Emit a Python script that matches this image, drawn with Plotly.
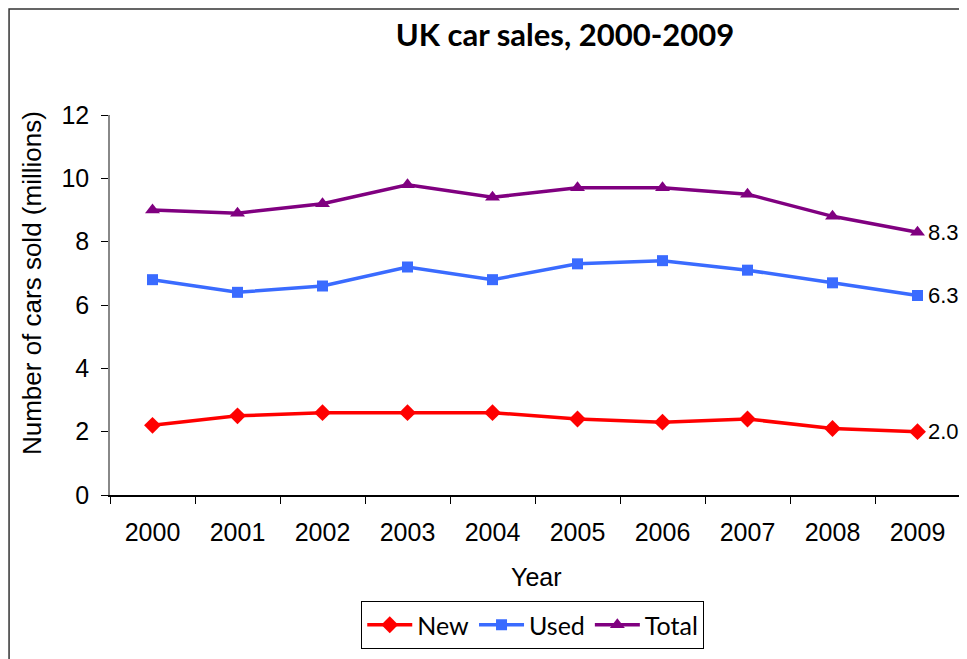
import plotly.graph_objects as go

years = ["2000", "2001", "2002", "2003", "2004", "2005", "2006", "2007", "2008", "2009"]
new_sales = [2.2, 2.5, 2.6, 2.6, 2.6, 2.4, 2.3, 2.4, 2.1, 2.0]
used_sales = [6.8, 6.4, 6.6, 7.2, 6.8, 7.3, 7.4, 7.1, 6.7, 6.3]
total_sales = [9.0, 8.9, 9.2, 9.8, 9.4, 9.7, 9.7, 9.5, 8.8, 8.3]
y_ticks = [0, 2, 4, 6, 8, 10, 12]

W, H = 967, 659
OFF = 8  # page body margin offset
L, R, T, B = 110 - OFF, 960.5 - OFF, 115 - OFF, 495 - OFF


def px_x(p):
    return (p - OFF - L) / (R - L)


def px_y(p):
    return (B - (p - OFF)) / (B - T)


series = [
    ("New", new_sales, "#FF0000", "diamond", 13),
    ("Used", used_sales, "#3A6BFF", "square", 11),
    ("Total", total_sales, "#800080", "triangle-up", 13),
]

fig = go.Figure()
for name, vals, color, sym, size in series:
    fig.add_trace(go.Scatter(
        x=years, y=vals, name=name, mode="lines+markers",
        line=dict(color=color, width=3.5),
        marker=dict(symbol=sym, size=size, color=color),
        cliponaxis=False,
    ))
    fig.add_annotation(
        x=len(years) - 1, y=vals[-1], xref="x", yref="y",
        text=f"{vals[-1]:.1f}", showarrow=False,
        xanchor="left", yanchor="middle", xshift=8,
        font=dict(family="Liberation Sans, Arial", size=22, color="black"),
    )

fig.add_annotation(
    x=px_x(32), y=px_y(283), xref="paper", yref="paper",
    text="Number of cars sold (millions)", textangle=-90, showarrow=False,
    xanchor="center", yanchor="middle",
    font=dict(family="Liberation Sans, Arial", size=26, color="black"),
)
fig.add_annotation(
    x=px_x(537), y=px_y(577), xref="paper", yref="paper",
    text="Year", showarrow=False, xanchor="center", yanchor="middle",
    font=dict(family="Liberation Sans, Arial", size=25, color="black"),
)

# outer chart frame
fig.add_shape(type="rect", xref="paper", yref="paper",
              x0=px_x(9), x1=px_x(1100), y0=px_y(9), y1=px_y(800),
              line=dict(color="#333333", width=1.5), fillcolor="rgba(0,0,0,0)",
              layer="below")

fig.update_layout(
    width=W, height=H,
    margin=dict(l=L, r=W - R, t=T, b=H - B, pad=0),
    paper_bgcolor="white", plot_bgcolor="white",
    title=dict(text="<b>UK car sales, 2000-2009</b>", x=(565 - OFF) / W, y=1 - (35 - OFF) / H,
               xanchor="center", yanchor="middle",
               font=dict(family="Lato, Noto Sans", size=31, color="black")),
    showlegend=True,
    legend=dict(orientation="h", x=px_x(533), y=px_y(625), xanchor="center", yanchor="middle",
                bordercolor="black", borderwidth=1, bgcolor="white",
                font=dict(family="Lato, Noto Sans", size=25, color="black"),
                itemwidth=45, tracegroupgap=0),
    xaxis=dict(type="category", range=[-0.5, 9.5], showgrid=False, zeroline=False,
               showline=True, linecolor="black", linewidth=1.5,
               ticks="outside", ticklen=7, tickcolor="black", tickson="boundaries",
               ticklabelstandoff=14,
               tickfont=dict(family="Liberation Sans, Arial", size=25, color="black")),
    yaxis=dict(range=[0, 12], tickvals=y_ticks, showgrid=False, zeroline=False,
               showline=True, linecolor="#888888", linewidth=1.5,
               ticks="outside", ticklen=7, tickcolor="black",
               ticklabelstandoff=7,
               tickfont=dict(family="Liberation Sans, Arial", size=25, color="black")),
)

fig.write_html("out.html")
